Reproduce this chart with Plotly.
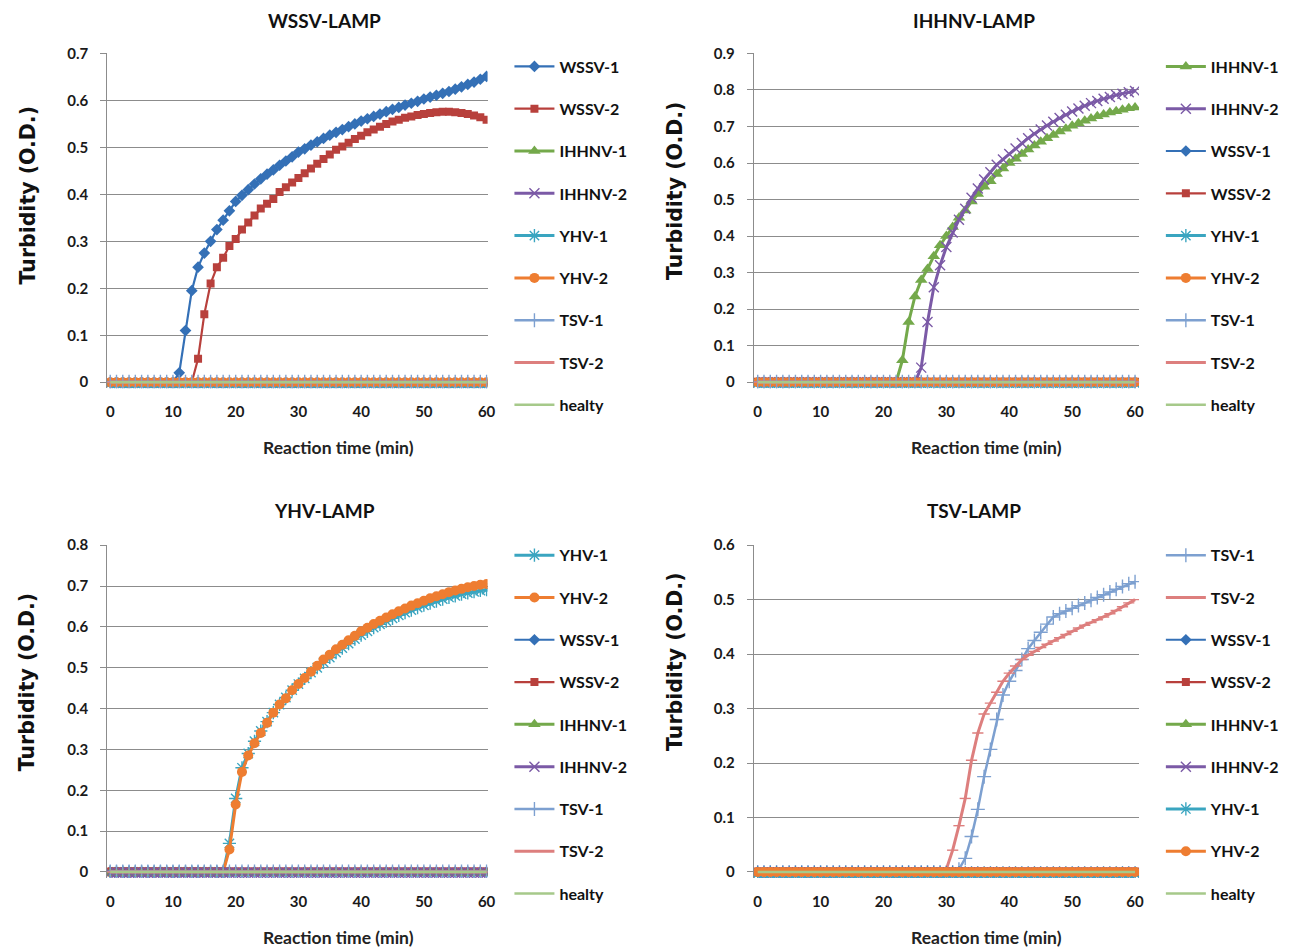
import plotly.graph_objects as go

# ---------------- data ----------------
time_min = [0, 1, 2, 3, 4, 5, 6, 7, 8, 9, 10, 11, 12, 13, 14, 15, 16, 17, 18, 19, 20,
            21, 22, 23, 24, 25, 26, 27, 28, 29, 30, 31, 32, 33, 34, 35, 36, 37, 38, 39, 40,
            41, 42, 43, 44, 45, 46, 47, 48, 49, 50, 51, 52, 53, 54, 55, 56, 57, 58, 59, 60]

# WSSV-LAMP positives
wssv1_od = [0, 0, 0, 0, 0, 0, 0, 0, 0, 0, 0,
            0.020, 0.110, 0.195, 0.245, 0.275, 0.300, 0.325, 0.345, 0.365, 0.385,
            0.398, 0.410, 0.422, 0.433, 0.443, 0.452, 0.462, 0.471, 0.480, 0.490,
            0.497, 0.505, 0.512, 0.519, 0.526, 0.532, 0.538, 0.544, 0.550, 0.556,
            0.561, 0.566, 0.571, 0.576, 0.581, 0.585, 0.590, 0.594, 0.598, 0.603,
            0.607, 0.611, 0.615, 0.619, 0.624, 0.629, 0.634, 0.639, 0.645, 0.651]
wssv2_od = [0, 0, 0, 0, 0, 0, 0, 0, 0, 0, 0, 0, 0, 0,
            0.050, 0.145, 0.210, 0.245, 0.265, 0.290, 0.305,
            0.325, 0.340, 0.355, 0.370, 0.380, 0.390, 0.405, 0.415, 0.425, 0.435,
            0.445, 0.455, 0.465, 0.475, 0.485, 0.495, 0.502, 0.510, 0.518, 0.525,
            0.532, 0.538, 0.544, 0.550, 0.555, 0.559, 0.563, 0.566, 0.569, 0.571,
            0.573, 0.575, 0.576, 0.576, 0.575, 0.573, 0.571, 0.568, 0.564, 0.559]

# IHHNV-LAMP positives
ihhnv1_od = [0, 0, 0, 0, 0, 0, 0, 0, 0, 0, 0, 0, 0, 0, 0, 0, 0, 0, 0, 0, 0, 0, 0,
             0.060, 0.165, 0.235, 0.280, 0.310, 0.345, 0.375, 0.400,
             0.425, 0.450, 0.470, 0.495, 0.515, 0.535, 0.550, 0.570, 0.585, 0.600,
             0.612, 0.625, 0.637, 0.648, 0.658, 0.668, 0.677, 0.686, 0.694, 0.702,
             0.709, 0.716, 0.722, 0.728, 0.733, 0.738, 0.742, 0.746, 0.750, 0.752]
ihhnv2_od = [0, 0, 0, 0, 0, 0, 0, 0, 0, 0, 0, 0, 0, 0, 0, 0, 0, 0, 0, 0, 0, 0, 0, 0, 0, 0,
             0.040, 0.165, 0.260, 0.320, 0.370,
             0.410, 0.445, 0.475, 0.505, 0.530, 0.555, 0.575, 0.595, 0.610, 0.625,
             0.640, 0.655, 0.668, 0.680, 0.692, 0.703, 0.713, 0.723, 0.732, 0.741,
             0.749, 0.757, 0.764, 0.770, 0.776, 0.781, 0.786, 0.790, 0.794, 0.797]

# YHV-LAMP positives
yhv1_od = [0, 0, 0, 0, 0, 0, 0, 0, 0, 0, 0, 0, 0, 0, 0, 0, 0, 0, 0,
           0.070, 0.180,
           0.255, 0.290, 0.320, 0.345, 0.368, 0.390, 0.410, 0.427, 0.445, 0.460,
           0.474, 0.488, 0.500, 0.513, 0.525, 0.537, 0.548, 0.559, 0.570, 0.580,
           0.589, 0.598, 0.606, 0.614, 0.621, 0.628, 0.635, 0.641, 0.647, 0.653,
           0.658, 0.663, 0.668, 0.672, 0.676, 0.680, 0.683, 0.686, 0.689, 0.691]
yhv2_od = [0, 0, 0, 0, 0, 0, 0, 0, 0, 0, 0, 0, 0, 0, 0, 0, 0, 0, 0,
           0.055, 0.165,
           0.245, 0.285, 0.315, 0.340, 0.365, 0.390, 0.410, 0.425, 0.445, 0.460,
           0.475, 0.490, 0.505, 0.520, 0.532, 0.545, 0.556, 0.567, 0.578, 0.589,
           0.598, 0.607, 0.615, 0.623, 0.631, 0.638, 0.645, 0.652, 0.658, 0.664,
           0.670, 0.675, 0.680, 0.685, 0.689, 0.693, 0.697, 0.700, 0.703, 0.705]

# TSV-LAMP positives
tsv1_od = [0, 0, 0, 0, 0, 0, 0, 0, 0, 0, 0, 0, 0, 0, 0, 0, 0, 0, 0, 0, 0, 0, 0, 0, 0, 0,
           0, 0, 0, 0, 0, 0,
           0.005, 0.025, 0.065, 0.115, 0.175, 0.225, 0.280, 0.325, 0.350,
           0.370, 0.390, 0.410, 0.425, 0.440, 0.455, 0.468, 0.474, 0.479, 0.484,
           0.489, 0.494, 0.499, 0.504, 0.509, 0.514, 0.519, 0.524, 0.529, 0.533]
tsv2_od = [0, 0, 0, 0, 0, 0, 0, 0, 0, 0, 0, 0, 0, 0, 0, 0, 0, 0, 0, 0, 0, 0, 0, 0, 0, 0,
           0, 0, 0, 0,
           0.005,
           0.040, 0.085, 0.135, 0.205, 0.255, 0.290, 0.310, 0.330, 0.350, 0.365,
           0.378, 0.390, 0.398, 0.405, 0.412, 0.418, 0.424, 0.430, 0.436, 0.442,
           0.448, 0.453, 0.458, 0.463, 0.468, 0.474, 0.480, 0.487, 0.494, 0.500]

# flat readings of the negative samples (O.D. near zero)
negative_level = {"WSSV-1": 0.0, "WSSV-2": 0.001, "IHHNV-1": -0.003, "IHHNV-2": -0.002,
                  "YHV-1": -0.003, "YHV-2": 0.0, "TSV-1": 0.001, "TSV-2": 0.0,
                  "healty": 0.0}

panel_titles = ["WSSV-LAMP", "IHHNV-LAMP", "YHV-LAMP", "TSV-LAMP"]
panel_order = [
    ["WSSV-1", "WSSV-2", "IHHNV-1", "IHHNV-2", "YHV-1", "YHV-2", "TSV-1", "TSV-2", "healty"],
    ["IHHNV-1", "IHHNV-2", "WSSV-1", "WSSV-2", "YHV-1", "YHV-2", "TSV-1", "TSV-2", "healty"],
    ["YHV-1", "YHV-2", "WSSV-1", "WSSV-2", "IHHNV-1", "IHHNV-2", "TSV-1", "TSV-2", "healty"],
    ["TSV-1", "TSV-2", "WSSV-1", "WSSV-2", "IHHNV-1", "IHHNV-2", "YHV-1", "YHV-2", "healty"],
]
panel_positive = [
    {"WSSV-1": wssv1_od, "WSSV-2": wssv2_od},
    {"IHHNV-1": ihhnv1_od, "IHHNV-2": ihhnv2_od},
    {"YHV-1": yhv1_od, "YHV-2": yhv2_od},
    {"TSV-1": tsv1_od, "TSV-2": tsv2_od},
]
panel_ymax = [0.7, 0.9, 0.8, 0.6]
x_ticks = [0, 10, 20, 30, 40, 50, 60]

# ---------------- styles ----------------
style = {
    "WSSV-1": dict(color="#3470B6", symbol="diamond", size=9, open=False, width=2.2),
    "WSSV-2": dict(color="#B8403C", symbol="square", size=8, open=False, width=2.2),
    "IHHNV-1": dict(color="#74A94B", symbol="triangle-up", size=11, open=False, width=3),
    "IHHNV-2": dict(color="#7B5AA6", symbol="x-thin-open", size=10, open=True, width=3),
    "YHV-1": dict(color="#3AA5C0", symbol="asterisk-open", size=11, open=True, width=3),
    "YHV-2": dict(color="#EE7D31", symbol="circle", size=10, open=False, width=3),
    "TSV-1": dict(color="#7DA0D0", symbol="cross-thin-open", size=10, open=True, width=2.5),
    "TSV-2": dict(color="#DD7F7E", symbol="line-ew-open", size=8, open=True, width=3),
    "healty": dict(color="#A6C98A", symbol=None, size=0, open=False, width=2.5),
}

W, H = 1293, 950
# pixel geometry of the four plot areas (x: left/right edges; y: top/bottom edges)
px_x = [(107, 490), (758, 1146), (107, 490), (758, 1146)]
px_zero_x = [(110, 489), (762, 1142), (110, 489), (762, 1142)]
px_y = [(44, 383), (44, 383), (542, 879), (542, 879)]
px_y_zero = [377, 377, 873, 873]

fig = go.Figure()
tick_font = dict(family="Lato", size=15, color="#1a1a1a", weight="bold")
annotations = []

for i in range(4):
    axn = "" if i == 0 else str(i + 1)
    lg = "legend" if i == 0 else f"legend{i + 1}"
    for name in panel_order[i]:
        st = style[name]
        yvals = panel_positive[i].get(name, [negative_level[name]] * len(time_min))
        kw = dict(x=time_min, y=yvals, name=name, xaxis="x" + axn, yaxis="y" + axn,
                  legend=lg, legendgroup=f"p{i}-{name}",
                  line=dict(color=st["color"], width=st["width"]))
        if st["symbol"] is None:
            kw["mode"] = "lines"
        else:
            kw["mode"] = "lines+markers"
            kw["marker"] = dict(symbol=st["symbol"], size=st["size"], color=st["color"],
                                line=dict(color=st["color"], width=1.4 if st["open"] else 0))
        fig.add_trace(go.Scatter(**kw))

    (xl, xr), (x0p, x60p) = px_x[i], px_zero_x[i]
    sx = (x60p - x0p) / 60.0
    xrange = [(xl - x0p) / sx, (xr - x0p) / sx]
    (yt, yb) = px_y[i]
    sy = (px_y_zero[i] - yt) / panel_ymax[i]
    yrange = [-(yb - px_y_zero[i]) / sy, panel_ymax[i] + 1e-6]
    ntick = int(round(panel_ymax[i] * 10)) + 1
    yticks = [round(k * 0.1, 1) for k in range(ntick)]

    fig.layout["xaxis" + axn] = dict(
        domain=[xl / W, xr / W], range=xrange, anchor="y" + axn,
        tickvals=x_ticks, ticktext=[str(v) for v in x_ticks],
        showgrid=False, zeroline=False, showline=False, ticks="",
        tickfont=tick_font, ticklabelstandoff=13)
    fig.layout["yaxis" + axn] = dict(
        domain=[1 - yb / H, 1 - yt / H], range=yrange, anchor="x" + axn,
        tickvals=yticks, ticktext=[("0" if v == 0 else f"{v:.1f}") for v in yticks],
        showgrid=True, gridcolor="#8c8c8c", gridwidth=1, zeroline=False,
        showline=True, linecolor="#8c8c8c", linewidth=1,
        ticks="outside", ticklen=6, tickcolor="#8c8c8c",
        tickfont=tick_font, ticklabelstandoff=9)

legend_top_px = [40, 40, 535, 535]
for i in range(4):
    lg = "legend" if i == 0 else f"legend{i + 1}"
    xr = px_x[i][1]
    fig.layout[lg] = dict(
        x=(xr + 22) / W, xanchor="left", y=1 - legend_top_px[i] / H, yanchor="top",
        font=dict(family="Lato", size=16, color="#111", weight="bold"),
        traceorder="grouped", tracegroupgap=18.5, itemwidth=40,
        bgcolor="rgba(0,0,0,0)", borderwidth=0)

title_px = [(326, 11), (980, 11), (326, 507), (980, 507)]
xtitle_px = [(340, 443), (992, 443), (340, 939), (992, 939)]
ytitle_px = [(27, 188), (678, 183), (27, 681), (678, 660)]
for i in range(4):
    tx, ty = title_px[i]
    annotations.append(dict(text=panel_titles[i], x=tx / W, y=1 - ty / H, xref="paper", yref="paper",
                            showarrow=False, xanchor="center", yanchor="middle",
                            font=dict(family="Lato", size=19, color="#111", weight="bold")))
    tx, ty = xtitle_px[i]
    annotations.append(dict(text="Reaction time (min)", x=tx / W, y=1 - ty / H, xref="paper", yref="paper",
                            showarrow=False, xanchor="center", yanchor="middle",
                            font=dict(family="Lato", size=17.5, color="#222", weight="bold")))
    tx, ty = ytitle_px[i]
    annotations.append(dict(text="Turbidity (O.D.)", x=tx / W, y=1 - ty / H, xref="paper", yref="paper",
                            showarrow=False, xanchor="center", yanchor="middle", textangle=-90,
                            font=dict(family="DejaVu Sans", size=20.5, color="#111", weight="bold")))

fig.update_layout(width=W, height=H, margin=dict(l=0, r=0, t=0, b=0),
                  paper_bgcolor="white", plot_bgcolor="white",
                  annotations=annotations, showlegend=True)

fig.write_html("out.html",
               post_script="document.body.style.margin='0';document.body.style.overflow='hidden';")
